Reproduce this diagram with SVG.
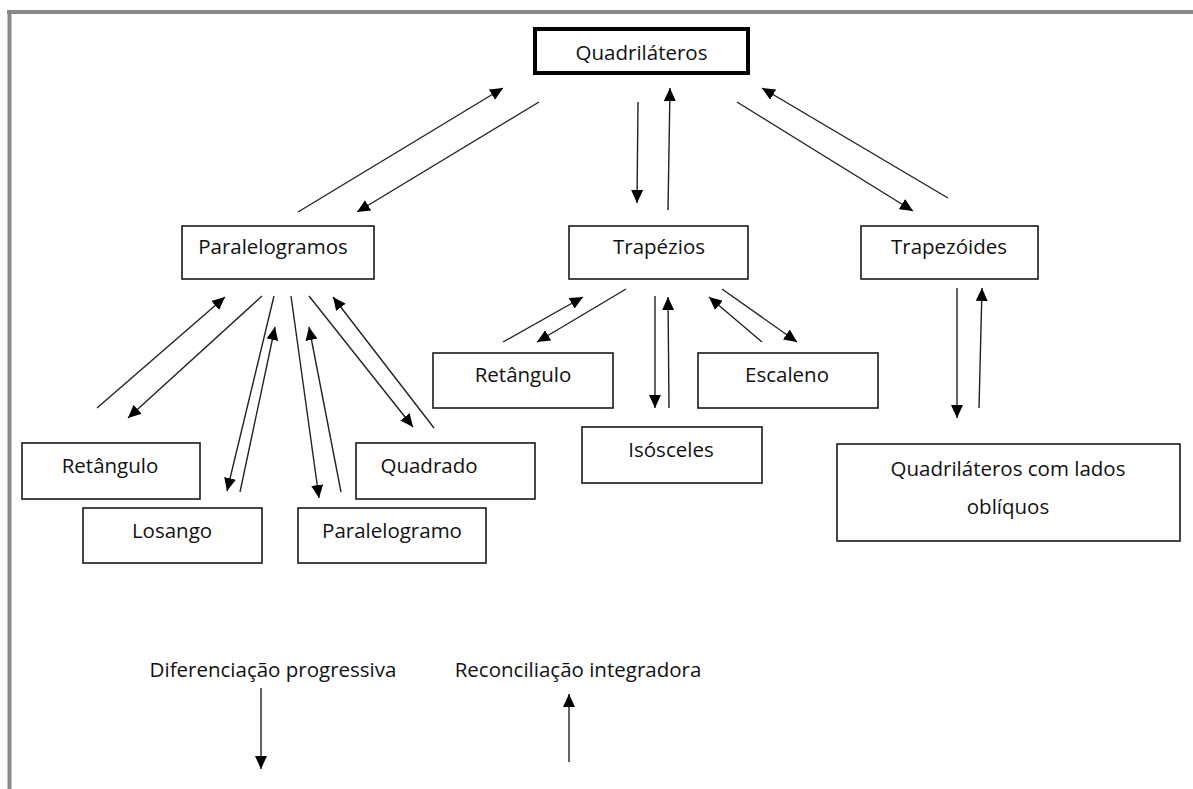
<svg xmlns="http://www.w3.org/2000/svg" width="1193" height="789" viewBox="0 0 1193 789">
  <style>
    .frame { stroke: #8a8a8a; stroke-width: 4; fill: none; }
    .box { fill: #ffffff; stroke: #1a1a1a; stroke-width: 1.6; }
    .box-main { fill: #ffffff; stroke: #000000; stroke-width: 4; }
    .lbl { font-family: "Open Sans", "Noto Sans", sans-serif; font-size: 20.5px; fill: #111111; text-anchor: middle; }
    .edge { stroke: #222222; stroke-width: 1.4; fill: none; marker-end: url(#arrow); }
  </style>
  <defs>
    <marker id="arrow" markerUnits="userSpaceOnUse" markerWidth="14" markerHeight="12" viewBox="0 0 14 12" refX="13" refY="6" orient="auto">
      <path d="M0,0 L13,6 L0,12 Z" fill="#000000"/>
    </marker>
  </defs>

  <rect width="1193" height="789" fill="#ffffff"/>

  <!-- page frame -->
  <g id="frame">
    <line class="frame" x1="7" y1="12" x2="1193" y2="12"/>
    <line class="frame" x1="9.5" y1="10" x2="9.5" y2="789"/>
  </g>

  <!-- nodes -->
  <g id="quadrilateros">
    <rect class="box-main" x="535" y="29" width="213" height="44"/>
    <text class="lbl" x="641.5" y="60">Quadriláteros</text>
  </g>
  <g id="paralelogramos">
    <rect class="box" x="182" y="226" width="192" height="53"/>
    <text class="lbl" x="273" y="254">Paralelogramos</text>
  </g>
  <g id="trapezios">
    <rect class="box" x="569" y="226" width="179" height="53"/>
    <text class="lbl" x="659" y="254">Trapézios</text>
  </g>
  <g id="trapezoides">
    <rect class="box" x="861" y="226" width="177" height="53"/>
    <text class="lbl" x="949" y="254">Trapezóides</text>
  </g>
  <g id="retangulo-par">
    <rect class="box" x="22" y="443" width="178" height="56"/>
    <text class="lbl" x="110" y="473">Retângulo</text>
  </g>
  <g id="losango">
    <rect class="box" x="83" y="508" width="179" height="55"/>
    <text class="lbl" x="172" y="538">Losango</text>
  </g>
  <g id="paralelogramo">
    <rect class="box" x="298" y="508" width="188" height="55"/>
    <text class="lbl" x="392" y="538">Paralelogramo</text>
  </g>
  <g id="quadrado">
    <rect class="box" x="356" y="443" width="179" height="56"/>
    <text class="lbl" x="429" y="473">Quadrado</text>
  </g>
  <g id="retangulo-trap">
    <rect class="box" x="433" y="353" width="180" height="55"/>
    <text class="lbl" x="523" y="382">Retângulo</text>
  </g>
  <g id="isosceles">
    <rect class="box" x="582" y="427" width="180" height="56"/>
    <text class="lbl" x="671" y="457">Isósceles</text>
  </g>
  <g id="escaleno">
    <rect class="box" x="698" y="353" width="180" height="55"/>
    <text class="lbl" x="787" y="382">Escaleno</text>
  </g>
  <g id="lados-obliquos">
    <rect class="box" x="837" y="444" width="343" height="97"/>
    <text class="lbl" x="1008" y="476">Quadriláteros com lados</text>
    <text class="lbl" x="1008" y="514">oblíquos</text>
  </g>

  <!-- legend labels -->
  <g id="legenda-diferenciacao">
    <text class="lbl" x="273" y="677">Diferenciação progressiva</text>
  </g>
  <g id="legenda-reconciliacao">
    <text class="lbl" x="578" y="677">Reconciliação integradora</text>
  </g>

  <!-- connectors -->
  <g id="connectors">
    <!-- Quadriláteros / Paralelogramos -->
    <line class="edge" x1="298" y1="212" x2="503" y2="88"/>
    <line class="edge" x1="539" y1="102" x2="357" y2="212"/>
    <!-- Quadriláteros / Trapézios -->
    <line class="edge" x1="638" y1="102" x2="637" y2="203"/>
    <line class="edge" x1="668" y1="210" x2="670" y2="88"/>
    <!-- Quadriláteros / Trapezóides -->
    <line class="edge" x1="737" y1="102" x2="913" y2="211"/>
    <line class="edge" x1="948" y1="198" x2="762" y2="88"/>

    <!-- Paralelogramos / children -->
    <line class="edge" x1="97" y1="408" x2="225" y2="297"/>
    <line class="edge" x1="262" y1="296" x2="128" y2="418"/>
    <line class="edge" x1="274" y1="296" x2="227" y2="491"/>
    <line class="edge" x1="240" y1="492" x2="275" y2="327"/>
    <line class="edge" x1="291" y1="296" x2="319" y2="498"/>
    <line class="edge" x1="341" y1="492" x2="309" y2="327"/>
    <line class="edge" x1="309" y1="296" x2="413" y2="427"/>
    <line class="edge" x1="434" y1="428" x2="333" y2="297"/>

    <!-- Trapézios / children -->
    <line class="edge" x1="503" y1="342" x2="583" y2="297"/>
    <line class="edge" x1="626" y1="289" x2="537" y2="342"/>
    <line class="edge" x1="655" y1="296" x2="655" y2="408"/>
    <line class="edge" x1="669" y1="408" x2="668" y2="297"/>
    <line class="edge" x1="762" y1="342" x2="709" y2="297"/>
    <line class="edge" x1="722" y1="289" x2="797" y2="342"/>

    <!-- Trapezóides / Quadriláteros com lados oblíquos -->
    <line class="edge" x1="957" y1="288" x2="957" y2="418"/>
    <line class="edge" x1="979" y1="408" x2="982" y2="288"/>

    <!-- legend arrows -->
    <line class="edge" x1="261" y1="688" x2="261" y2="769"/>
    <line class="edge" x1="569" y1="762" x2="569" y2="694"/>
  </g>
</svg>
